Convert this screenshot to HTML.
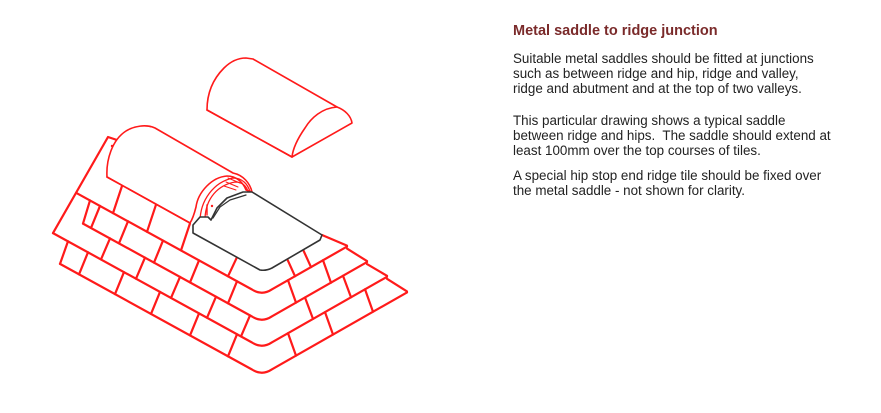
<!DOCTYPE html>
<html><head><meta charset="utf-8">
<style>
html,body{margin:0;padding:0;background:#fff;}
body{width:881px;height:413px;position:relative;overflow:hidden;}
svg{position:absolute;left:0;top:0;}
.t{position:absolute;left:513px;font-family:"Liberation Sans",sans-serif;color:#222;font-size:13.4px;line-height:15px;white-space:nowrap;}
h1{position:absolute;left:513px;top:23px;margin:0;font-family:"Liberation Sans",sans-serif;font-size:14.5px;font-weight:bold;color:#7a2a2a;}
</style></head><body>
<svg id="s" width="881" height="413" viewBox="0 0 881 413"></svg>
<h1>Metal saddle to ridge junction</h1>
<div class="t" style="top:51px">Suitable metal saddles should be fitted at junctions<br>such as between ridge and hip, ridge and valley,<br>ridge and abutment and at the top of two valleys.</div>
<div class="t" style="top:113px">This particular drawing shows a typical saddle<br>between ridge and hips.&nbsp; The saddle should extend at<br>least 100mm over the top courses of tiles.</div>
<div class="t" style="top:168px">A special hip stop end ridge tile should be fixed over<br>the metal saddle - not shown for clarity.</div>
<script>
(function(){
var R='#ff1a1a';var out=[];
function p(d,c,w,f){out.push('<path d="'+d+'" fill="'+(f||'none')+'" stroke="'+(c||R)+'" stroke-width="'+(w||2.2)+'" stroke-linejoin="round" stroke-linecap="round"/>');}
var A=[0,295,322,348,375];
function yl(k,x){return A[k]-0.55*(262-x);}
function yr(k,x){return A[k]-0.57*(x-262);}
var LS=[0,77,83,53,60], RE=[0,347,367,387,407];
for(var k=1;k<=4;k++){
  var xs=LS[k],xe=RE[k];
  p('M'+xs+','+yl(k,xs).toFixed(1)+' L252,'+yl(k,252).toFixed(1)+' Q262,'+(A[k]+1)+' 272,'+yr(k,272).toFixed(1)+' L'+xe+','+yr(k,xe).toFixed(1));
}
p('M117,140 L108,137 L53,'+yl(3,53).toFixed(1));
p('M83,'+yl(2,83).toFixed(1)+' L90,'+yl(1,90).toFixed(1));
p('M60,'+yl(4,60).toFixed(1)+' L68,'+yl(3,68).toFixed(1));
p('M322,235 L'+RE[1]+','+(yr(1,RE[1])-1).toFixed(1));
for(k=2;k<=4;k++){p('M'+(RE[k-1])+','+(yr(k-1,RE[k-1])+2).toFixed(1)+' L'+RE[k]+','+(yr(k,RE[k])-1).toFixed(1));}
function top1(x){ if(x<=190) return 263-0.55*(262-x); if(x<262) return 233+0.55*(x-193); return 270-0.57*(x-267);}
function top(k,x){ if(k==1) return top1(x); return x<262?yl(k-1,x):yr(k-1,x);}
var LJ={1:[122,156,190,237],2:[100,128,163,199,237],3:[110,145,180,216,250],4:[88,124,160,199,237]};
var RJ={1:[287,303],2:[288,323],3:[305,343],4:[288,325,365]};
for(k=1;k<=4;k++){
  LJ[k].forEach(function(x){var xb=x-9;p('M'+x+','+top(k,x).toFixed(1)+' L'+xb+','+yl(k,xb).toFixed(1));});
  RJ[k].forEach(function(x){var xb=x+8;p('M'+x+','+top(k,x).toFixed(1)+' L'+xb+','+yr(k,xb).toFixed(1));});
}
p('M107,177 C106,160 112,140 126,131 C134,126 146,124 155,128 L233,173 C243,175 250,183 252,192 L246,190 C243,182 236,176 227,176 C212,177 198,192 196,207 C194,215 192,220 190,223 Z',R,1.6,'#fff');
p('M107,177 L190,223',R,1.6);
p('M200,222 C200,200 214,182 233,178 C242,178 248,184 250,192',R,1.3);
p('M205,218 C206,198 218,185 235,182 C243,182 247,187 248,192',R,1.3);
p('M228,178 L240,183 M226,182 L238,187 M224,186 L236,190',R,1);
out.push('<circle cx="112" cy="146" r="1.2" fill="'+R+'"/><circle cx="212" cy="206" r="1.2" fill="'+R+'"/>');
p('M207,215 L207,205',R,1.4);
p('M193,233 L193,225 L200,217 L208,217 L211,220 L217,208 L227,198 L243,192 L252,192 L322,235 L320,240 L272,268 Q266,271 260,270 Z','#333',1.6,'#fff');
p('M213,218 L220,207 L230,200 L246,195','#333',1.2);
p('M207,110 C207,95 212,80 224,68 C231,61 238,58 246,58 L253,59 L337,107 C345,110 351,116 352,123 L292,157 Z',R,1.6,'#fff');
p('M337,107 C322,108 311,118 305,128 C298,138 293,148 292,157',R,1.6);
p('M207,110 L292,157',R,1.6);
document.getElementById('s').innerHTML=out.join('');
})();
</script>
</body></html>
